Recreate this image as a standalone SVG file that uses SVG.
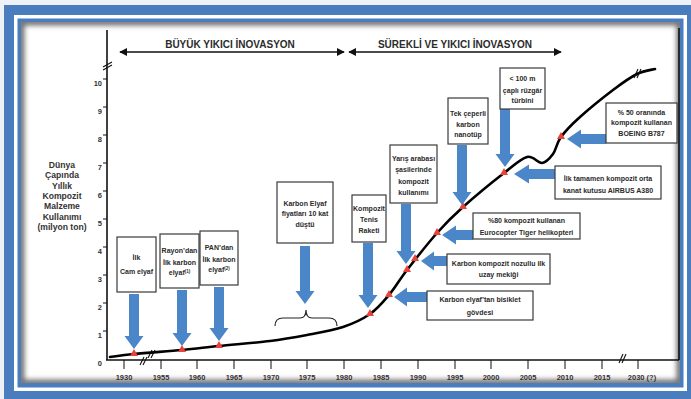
<svg xmlns="http://www.w3.org/2000/svg" width="691" height="399" viewBox="0 0 691 399">
<style>
.box{fill:#fff;stroke:#3a3a3a;stroke-width:1.2}
.t{font-family:"Liberation Sans",Arial,sans-serif;font-size:7px;font-weight:bold;fill:#2b2b2b;text-anchor:middle}
.ax{font-family:"Liberation Sans",Arial,sans-serif;font-size:7.5px;font-weight:bold;fill:#333}
.hd{font-family:"Liberation Sans",Arial,sans-serif;font-size:10px;font-weight:bold;fill:#2b2b2b;text-anchor:middle}
.yt{font-family:"Liberation Sans",Arial,sans-serif;font-size:8.6px;font-weight:bold;fill:#333;text-anchor:middle}
.arr{fill:#4a86c8}
.mk{fill:#e8423a}
.ln{fill:none;stroke:#111;stroke-width:1.6}
.brk{fill:none;stroke:#111;stroke-width:1.1}
</style>
<defs>
<marker id="ah" viewBox="0 0 10 10" refX="9" refY="5" markerWidth="5" markerHeight="5" orient="auto-start-reverse"><path d="M0,0 L10,5 L0,10 Z" fill="#111"/></marker>
<filter id="sh" x="-5%" y="-5%" width="110%" height="110%"><feGaussianBlur stdDeviation="2.5"/></filter>
<clipPath id="cp"><rect x="21" y="22" width="659" height="361"/></clipPath>
</defs>
<!-- frame -->
<rect x="0" y="0" width="691" height="399" fill="#eef1f5"/>
<rect x="4" y="5" width="687" height="394" fill="#4a7dbd"/>
<rect x="14" y="15" width="673" height="376" fill="#ffffff"/>
<rect x="17.5" y="18.5" width="666" height="369" fill="#4a7dbd"/>
<rect x="21" y="22" width="659" height="361" fill="#ffffff"/>
<g clip-path="url(#cp)"><rect x="21" y="22" width="659" height="361" fill="none" stroke="#707070" stroke-width="7" filter="url(#sh)"/></g>

<!-- axes -->
<g id="axes">
<line class="ln" x1="107" y1="30" x2="107" y2="360"/>
<line class="ln" x1="106" y1="360" x2="679" y2="360"/>
<line class="ln" x1="679" y1="28" x2="679" y2="360"/>
<g stroke="#111" stroke-width="1">
<line x1="103" y1="79" x2="107" y2="79"/><line x1="103" y1="107" x2="107" y2="107"/><line x1="103" y1="135" x2="107" y2="135"/>
<line x1="103" y1="163" x2="107" y2="163"/><line x1="103" y1="191" x2="107" y2="191"/><line x1="103" y1="219" x2="107" y2="219"/>
<line x1="103" y1="247" x2="107" y2="247"/><line x1="103" y1="275" x2="107" y2="275"/><line x1="103" y1="303" x2="107" y2="303"/>
<line x1="103" y1="331" x2="107" y2="331"/>
<line x1="124" y1="360" x2="124" y2="369"/><line x1="161" y1="360" x2="161" y2="369"/><line x1="197" y1="360" x2="197" y2="369"/>
<line x1="234" y1="360" x2="234" y2="369"/><line x1="271" y1="360" x2="271" y2="369"/><line x1="307" y1="360" x2="307" y2="369"/>
<line x1="344" y1="360" x2="344" y2="369"/><line x1="381" y1="360" x2="381" y2="369"/><line x1="418" y1="360" x2="418" y2="369"/>
<line x1="455" y1="360" x2="455" y2="369"/><line x1="491" y1="360" x2="491" y2="369"/><line x1="528" y1="360" x2="528" y2="369"/>
<line x1="565" y1="360" x2="565" y2="369"/><line x1="602" y1="360" x2="602" y2="369"/><line x1="638" y1="360" x2="638" y2="369"/>
</g>
<g class="ax" text-anchor="end">
<text x="102" y="86">10</text><text x="102" y="114">9</text><text x="102" y="142">8</text><text x="102" y="170">7</text>
<text x="102" y="198">6</text><text x="102" y="226">5</text><text x="102" y="254">4</text><text x="102" y="282">3</text>
<text x="102" y="310">2</text><text x="102" y="338">1</text><text x="102" y="366">0</text>
</g>
<g class="ax" text-anchor="middle">
<text x="124" y="380">1930</text><text x="161" y="380">1955</text><text x="197" y="380">1960</text><text x="234" y="380">1965</text>
<text x="271" y="380">1970</text><text x="307" y="380">1975</text><text x="344" y="380">1980</text><text x="381" y="380">1985</text>
<text x="418" y="380">1990</text><text x="455" y="380">1995</text><text x="491" y="380">2000</text><text x="528" y="380">2005</text>
<text x="565" y="380">2010</text><text x="602" y="380">2015</text><text x="642" y="380">2030 (?)</text>
</g>
<g class="brk">
<path d="M103,67 L112,62 M103,70 L112,65"/>
<path d="M619,363 L623,354 M622,363 L626,354"/>
<path d="M140,365 L144,357 M143,365 L147,357"/>
<path d="M148,358 L152,350 M151,358 L155,350"/>
</g>
</g>

<g id="ytitle" class="yt">
<text x="62" y="168">Dünya</text>
<text x="62" y="178.3">Çapında</text>
<text x="62" y="188.6">Yıllık</text>
<text x="62" y="198.9">Kompozit</text>
<text x="62" y="209.2">Malzeme</text>
<text x="62" y="219.5">Kullanımı</text>
<text x="62" y="229.8">(milyon ton)</text>
</g>

<g id="headers">
<line class="ln" x1="120" y1="52" x2="344" y2="52" marker-start="url(#ah)" marker-end="url(#ah)"/>
<text class="hd" x="230" y="48">BÜYÜK YIKICI İNOVASYON</text>
<line class="ln" x1="349" y1="52" x2="561" y2="52" marker-start="url(#ah)" marker-end="url(#ah)"/>
<text class="hd" x="455" y="48">SÜREKLİ VE YIKICI İNOVASYON</text>
</g>

<!-- curve -->
<g id="curve">
<path fill="none" stroke="#000" stroke-width="2.6" stroke-linecap="round" d="M110,357 C114,356.5 122,355.2 134,354 C146,352.8 167.8,351.3 182,350 C196.2,348.7 204.3,347.5 219,346 C233.7,344.5 255.3,342.8 270,341 C284.7,339.2 294.8,337.3 307,335 C319.2,332.7 332.5,330.5 343,327 C353.5,323.5 362.3,319.3 370,314 C377.7,308.7 382.8,302.3 389,295 C395.2,287.7 399,280.3 407,270 C415,259.7 427.7,243.5 437,233 C446.3,222.5 451.8,217 463,207 C474.2,197 493.3,181.3 504,173 C514.7,164.7 520.7,158.7 527,157 C533.3,155.3 537.7,163.5 542,163 C546.3,162.5 549.8,158.3 553,154 C556.2,149.7 556.5,143.2 561,137 C565.5,130.8 571.3,124.8 580,117 C588.7,109.2 603.5,97.2 613,90 C622.5,82.8 630,77.5 637,74 C644,70.5 652,69.8 655,69"/>
<path class="brk" d="M634,78 L638,69 M637,78 L641,69"/>
<g class="mk">
<path d="M134,349 L138,356 L130,356 Z"/>
<path d="M182,345 L186,352 L178,352 Z"/>
<path d="M219,341 L223,348 L215,348 Z"/>
<path d="M370,309 L374,316 L366,316 Z"/>
<path d="M389,290 L393,297 L385,297 Z"/>
<path d="M407,265 L411,272 L403,272 Z"/>
<path d="M415,254 L419,261 L411,261 Z"/>
<path d="M437,228 L441,235 L433,235 Z"/>
<path d="M463,202 L467,209 L459,209 Z"/>
<path d="M504,168 L508,175 L500,175 Z"/>
<path d="M561,132 L565,139 L557,139 Z"/>
</g>
</g>

<!-- connectors: arrows -->
<g id="connectors" class="arr">
<polygon points="129,294 139,294 139,336 143.5,336 134,349 124.5,336 129,336"/>
<polygon points="177,290 187,290 187,333 191.5,333 182,346 172.5,333 177,333"/>
<polygon points="214,287 224,287 224,328 228.5,328 219,341 209.5,328 214,328"/>
<polygon points="300,246 310,246 310,291 314.5,291 305,304 295.5,291 300,291"/>
<polygon points="363,243 373,243 373,295 377.5,295 368,308 358.5,295 363,295"/>
<polygon points="401,204 411,204 411,251 415.5,251 406,264 396.5,251 401,251"/>
<polygon points="457,145 467,145 467,192 471.5,192 462,205 452.5,192 457,192"/>
<polygon points="500,109 510,109 510,154 514.5,154 505,167 495.5,154 500,154"/>
<polygon points="606,134 606,144 581,144 581,148.5 567,139 581,129.5 581,134"/>
<polygon points="555,169 555,179 529,179 529,183.5 514,174 529,164.5 529,169"/>
<polygon points="473,230 473,240 456,240 456,244.5 442,235 456,225.5 456,230"/>
<polygon points="447,256 447,266 434,266 434,270.5 421,261 434,251.5 434,256"/>
<polygon points="427,292 427,302 407,302 407,306.5 394,297 407,287.5 407,292"/>
<path d="M275,326 Q275,318 283,318 L300,318 Q306,318 306,310 Q306,318 312,318 L329,318 Q337,318 337,326" fill="none" stroke="#222" stroke-width="1.2"/>
</g>

<!-- nodes -->
<g id="n1"><rect class="box" x="117" y="237" width="39" height="55"/>
<text class="t" x="136.5" y="260">İlk</text><text class="t" x="136.5" y="274">Cam elyaf</text></g>
<g id="n2"><rect class="box" x="160" y="234" width="39" height="54"/>
<text class="t" x="179.5" y="252.5">Rayon’dan</text><text class="t" x="179.5" y="264.5">İlk karbon</text><text class="t" x="179.5" y="275">elyaf<tspan font-size="4.5" dy="-2.5">(1)</tspan></text></g>
<g id="n3"><rect class="box" x="200" y="231" width="38" height="54"/>
<text class="t" x="219" y="249.5">PAN’dan</text><text class="t" x="219" y="261.5">İlk karbon</text><text class="t" x="219" y="272">elyaf<tspan font-size="4.5" dy="-2.5">(2)</tspan></text></g>
<g id="n4"><rect class="box" x="277" y="182" width="56" height="61"/>
<text class="t" x="305" y="205.5">Karbon Elyaf</text><text class="t" x="305" y="216">fiyatları 10 kat</text><text class="t" x="305" y="226.5">düştü</text></g>
<g id="n5"><rect class="box" x="352" y="195" width="34" height="47"/>
<text class="t" x="369" y="210.5">Kompozit</text><text class="t" x="369" y="221.5">Tenis</text><text class="t" x="369" y="232.5">Raketi</text></g>
<g id="n6"><rect class="box" x="390" y="145" width="47" height="58"/>
<text class="t" x="413.5" y="160.5">Yarış arabası</text><text class="t" x="413.5" y="171.5">şasilerinde</text><text class="t" x="413.5" y="183.5">kompozit</text><text class="t" x="413.5" y="194.5">kullanımı</text></g>
<g id="n7"><rect class="box" x="448" y="98" width="40" height="46"/>
<text class="t" x="468" y="115.5">Tek çeperli</text><text class="t" x="468" y="126.5">karbon</text><text class="t" x="468" y="137">nanotüp</text></g>
<g id="n8"><rect class="box" x="500" y="68" width="45" height="41"/>
<text class="t" x="522.5" y="81" font-size="7.5">&lt; 100 m</text><text class="t" x="522.5" y="92.5" font-size="7.5">çaplı rüzgâr</text><text class="t" x="522.5" y="103">türbini</text></g>
<g id="n9"><rect class="box" x="606" y="103" width="71" height="40"/>
<text class="t" x="641.5" y="114.5">% 50  oranında</text><text class="t" x="641.5" y="125">kompozit kullanan</text><text class="t" x="641.5" y="135.5">BOEING B787</text></g>
<g id="n10"><rect class="box" x="555" y="166" width="106" height="33"/>
<text class="t" x="608" y="180.5">İlk tamamen kompozit orta</text><text class="t" x="608" y="192.5">kanat kutusu AIRBUS A380</text></g>
<g id="n11"><rect class="box" x="473" y="213" width="107" height="26"/>
<text class="t" x="526.5" y="222.5">%80 kompozit kullanan</text><text class="t" x="526.5" y="234.5">Eurocopter Tiger helikopteri</text></g>
<g id="n12"><rect class="box" x="447" y="254" width="103" height="30"/>
<text class="t" x="498.5" y="265.5">Karbon kompozit nozullu ilk</text><text class="t" x="498.5" y="277">uzay mekiği</text></g>
<g id="n13"><rect class="box" x="427" y="291" width="106" height="29"/>
<text class="t" x="480" y="301.5">Karbon elyaf’tan bisiklet</text><text class="t" x="480" y="314.5">gövdesi</text></g>
</svg>
